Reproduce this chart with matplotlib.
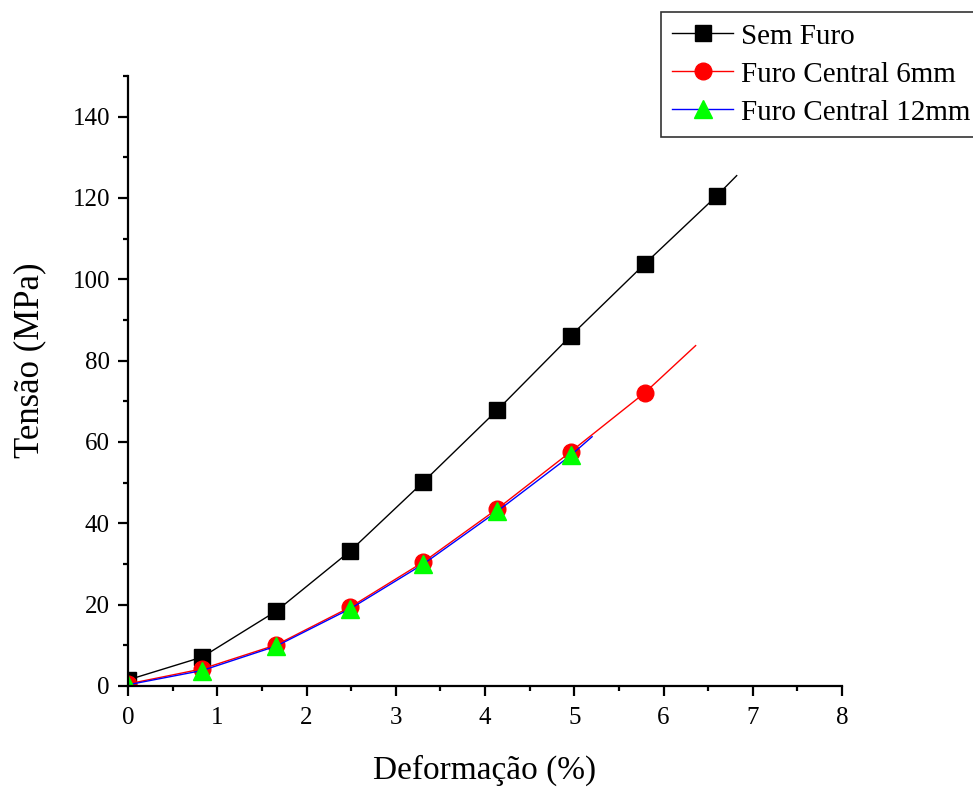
import matplotlib
matplotlib.use("Agg")
import matplotlib.pyplot as plt
from matplotlib.ticker import MultipleLocator

plt.rcParams['font.family'] = ['Liberation Serif', 'DejaVu Serif']

# Data (marker points + final end point of each curve)
x_sem = [0.0, 0.83, 1.66, 2.49, 3.31, 4.14, 4.96, 5.79, 6.60, 6.82]
y_sem = [1.5, 7.1, 18.4, 33.2, 50.2, 67.9, 86.1, 103.8, 120.6, 125.5]

x_6mm = [0.0, 0.83, 1.66, 2.49, 3.31, 4.14, 4.96, 5.79, 6.36]
y_6mm = [0.5, 4.2, 10.1, 19.4, 30.5, 43.6, 57.6, 72.1, 83.7]

x_12mm = [0.0, 0.83, 1.66, 2.49, 3.31, 4.14, 4.96, 5.20]
y_12mm = [0.3, 3.8, 9.8, 19.0, 30.0, 43.0, 56.7, 61.3]

labels = ["Sem Furo", "Furo Central 6mm", "Furo Central 12mm"]

fig = plt.figure(figsize=(9.73, 7.87), dpi=100)
ax = fig.add_axes([128/973, 1-686/787, (842-128)/973, (686-76)/787])

ax.plot(x_sem, y_sem, color='black', lw=1, marker='s', ms=12,
        markevery=list(range(len(x_sem)-1)), label=labels[0])
ax.plot(x_6mm, y_6mm, color='red', lw=1, marker='o', ms=12,
        markevery=list(range(len(x_6mm)-1)), label=labels[1])
ax.plot(x_12mm, y_12mm, color='blue', lw=1, marker='^', ms=13,
        markerfacecolor='#00ff00', markeredgecolor='#00ff00',
        markevery=list(range(len(x_12mm)-1)), label=labels[2])

ax.set_xlim(0, 8)
ax.set_ylim(0, 150)
ax.xaxis.set_major_locator(MultipleLocator(1))
ax.xaxis.set_minor_locator(MultipleLocator(0.5))
ax.yaxis.set_major_locator(MultipleLocator(20))
ax.yaxis.set_minor_locator(MultipleLocator(10))
for s in ['top', 'right']:
    ax.spines[s].set_visible(False)
for s in ['left', 'bottom']:
    ax.spines[s].set_linewidth(1.6)
ax.tick_params(which='major', direction='out', length=7, width=1.6, labelsize=18)
ax.tick_params(which='minor', direction='out', length=3.5, width=1.6)
ax.tick_params(axis='y', which='major', pad=6)
ax.tick_params(axis='x', which='major', pad=8)

ax.set_xlabel("Deformação (%)", fontsize=24)
ax.set_ylabel("Tensão (MPa)", fontsize=25)
ax.xaxis.set_label_coords(0.50, -0.113)
ax.yaxis.set_label_coords(-0.114, 0.534)

leg = fig.legend(loc='upper left', bbox_to_anchor=(661/973, 1-12/787),
                 fontsize=21, frameon=True, fancybox=False, edgecolor='black',
                 handlelength=2.1, borderpad=0.38, labelspacing=0.4,
                 handletextpad=0.27, borderaxespad=0, markerscale=1.0)
leg.get_frame().set_linewidth(1.2)

fig.savefig("out.png", dpi=100)
